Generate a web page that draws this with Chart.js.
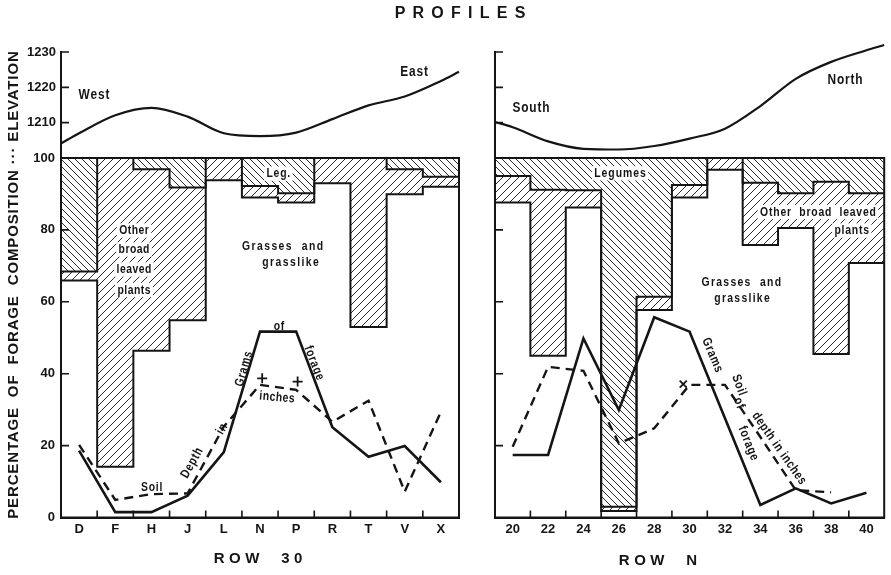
<!DOCTYPE html>
<html>
<head>
<meta charset="utf-8">
<script src="https://cdn.jsdelivr.net/npm/chart.js@4.4.1/dist/chart.umd.min.js"></script>
<style>
  html, body { margin: 0; padding: 0; background: #fff; }
  #wrap { position: relative; width: 891px; height: 575px; overflow: hidden; background: #fff; }
  #wrap canvas { position: absolute; left: 0; top: 0; }
</style>
</head>
<body>
<div id="wrap">
  <canvas id="c30" width="891" height="575"></canvas>
  <canvas id="cN" width="891" height="575"></canvas>
</div>
<script>
// ---------------- DATA ----------------
const pctTicks = [0, 20, 40, 60, 80, 100];
const elevTicks = [1210, 1220, 1230];

// Row 30 (west -> east)
const labels30  = ['D', 'F', 'H', 'J', 'L', 'N', 'P', 'R', 'T', 'V', 'X'];
const grass30   = [65.9, 14.1, 46.4, 54.9, 93.8, 89.0, 87.6, 93.0, 53.0, 89.9, 92.0];
const other30   = [2.5, 85.9, 50.5, 36.9, 6.2, 3.2, 2.6, 7.0, 47.0, 7.0, 2.8];
const legume30  = [31.6, 0, 3.1, 8.2, 0, 7.8, 9.8, 0, 0, 3.1, 5.2];
const grams30   = [18.6, 1.5, 1.5, 6.1, 18.2, 51.7, 51.7, 25.1, 16.9, 19.9, 9.8];
const soil30    = [20.2, 4.9, 6.5, 6.7, 25.3, 36.9, 35.5, 26.6, 32.5, 7.2, 29.4];
const elevAt30  = [-0.5, 0, 1, 2, 3, 4, 5, 6, 7, 8, 9, 10, 10.5];
const elev30    = [1204.1, 1207.0, 1212.1, 1214.2, 1211.7, 1207.0, 1206.2, 1207.2, 1211.0, 1214.9, 1217.4, 1221.8, 1224.4];
const plusAt30  = [5.06, 6.04];
const plus30    = [38.7, 37.8];

// Row N (south -> north)
const labelsN   = ['20', '22', '24', '26', '28', '30', '32', '34', '36', '38', '40'];
const grassN    = [87.6, 45.0, 86.2, 1.8, 57.7, 89.0, 96.7, 75.8, 80.5, 45.5, 70.8];
const otherN    = [7.4, 46.2, 4.8, 1.2, 3.7, 3.5, 3.3, 17.3, 9.7, 47.9, 19.4];
const legumeN   = [5.0, 8.8, 9.0, 97.0, 38.6, 7.5, 0, 6.9, 9.8, 6.6, 9.8];
const gramsN    = [17.4, 17.4, 49.8, 29.9, 55.7, 51.7, 27.6, 3.5, 8.1, 3.9, 6.9];
const soilN     = [19.7, 41.9, 40.8, 20.6, 24.8, 36.9, 36.9, 22.4, 7.6, 7.0, null];
const elevAtN   = [-0.5, 0, 1, 2, 3, 4, 5, 6, 7, 8, 9, 10, 10.5];
const elevN     = [1210.2, 1208.7, 1204.7, 1202.6, 1202.4, 1203.4, 1205.5, 1208.3, 1214.7, 1222.4, 1227.2, 1230.5, 1232.0];
const plusAtN   = [4.82];
const plusN     = [37.1];

// ---------------- STYLE ----------------
const FONT = '"Liberation Sans", Arial, sans-serif';
const INK = '#151515';
Chart.defaults.font.family = FONT;
Chart.defaults.color = INK;

function hatch(dir, s) {
  const c = document.createElement('canvas');
  c.width = s; c.height = s;
  const g = c.getContext('2d');
  g.strokeStyle = '#2a2a2a';
  g.lineWidth = 1;
  g.beginPath();
  if (dir === '/') {
    g.moveTo(-1, s + 1); g.lineTo(s + 1, -1);
    g.moveTo(-1, 1); g.lineTo(1, -1);
    g.moveTo(s - 1, s + 1); g.lineTo(s + 1, s - 1);
  } else {
    g.moveTo(-1, -1); g.lineTo(s + 1, s + 1);
    g.moveTo(-1, s - 1); g.lineTo(1, s + 1);
    g.moveTo(s - 1, -1); g.lineTo(s + 1, 1);
  }
  g.stroke();
  return g.createPattern(c, 'repeat');
}
const PAT_LEG = hatch('\\', 7);
const PAT_OTH = hatch('/', 8);

function drawText(ctx, t) {
  const size = t.size || 12.5;
  ctx.save();
  ctx.translate(t.x, t.y);
  if (t.rot) ctx.rotate(t.rot * Math.PI / 180);
  ctx.font = `${t.weight || 'bold'} ${size}px ${FONT}`;
  const ls = t.ls || 0;
  const hasLS = ('letterSpacing' in ctx);
  if (hasLS) ctx.letterSpacing = ls + 'px';
  const sx = t.sx || 1;
  ctx.scale(sx, 1);
  const w = ctx.measureText(t.s).width - (hasLS ? ls : 0);
  if (t.bg) {
    ctx.fillStyle = '#fff';
    ctx.fillRect(-w / 2 - 3, -size * 0.55, w + 6, size * 1.1);
  }
  ctx.fillStyle = INK;
  ctx.textAlign = 'left';
  ctx.textBaseline = 'middle';
  ctx.fillText(t.s, -w / 2, 0);
  ctx.restore();
}

function panel(id, d) {
  const n = d.labels.length;
  const topOther = d.grass.map((g, i) => g + d.other[i]);
  const step = arr => arr.map((v, i) => ({ x: i - 0.5, y: v })).concat([{ x: n - 0.5, y: arr[n - 1] }]);

  const decor = {
    id: 'decor' + id,
    afterDraw(chart) {
      const { ctx, chartArea: a, scales } = chart;
      const y100 = scales.y.getPixelForValue(100);
      const yTop = scales.ye.getPixelForValue(1230);
      ctx.save();
      ctx.strokeStyle = INK;
      ctx.lineCap = 'square';
      ctx.lineWidth = 2;
      ctx.beginPath();
      ctx.moveTo(a.left, yTop); ctx.lineTo(a.left, a.bottom); ctx.lineTo(a.right, a.bottom);
      ctx.lineTo(a.right, y100); ctx.lineTo(a.left, y100);
      ctx.stroke();
      ctx.lineWidth = 1.6;
      ctx.lineCap = 'butt';
      ctx.beginPath();
      for (let i = 1; i < n; i++) {
        const px = scales.xe.getPixelForValue(i - 0.5);
        ctx.moveTo(px, a.bottom); ctx.lineTo(px, a.bottom - 7);
      }
      pctTicks.filter(v => v > 0 && v < 100).forEach(v => {
        const py = scales.y.getPixelForValue(v);
        ctx.moveTo(a.left, py); ctx.lineTo(a.left + 8, py);
      });
      elevTicks.forEach(v => {
        const py = scales.ye.getPixelForValue(v);
        ctx.moveTo(a.left, py); ctx.lineTo(a.left + 8, py);
      });
      ctx.stroke();
      d.texts.forEach(t => drawText(ctx, t));
      ctx.restore();
    }
  };

  const barCommon = { xAxisID: 'x', yAxisID: 'y', borderWidth: 0, categoryPercentage: 1, barPercentage: 1, grouped: false, order: 2 };

  return new Chart(document.getElementById(id), {
    type: 'bar',
    data: {
      labels: d.labels,
      datasets: [
        { type: 'line', label: 'Grams of forage', data: d.grams, xAxisID: 'x', yAxisID: 'y',
          borderColor: INK, borderWidth: 2.6, pointRadius: 0, tension: 0, order: 0 },
        { type: 'line', label: 'Soil depth in inches', data: d.soil, xAxisID: 'x', yAxisID: 'y',
          borderColor: INK, borderWidth: 2.4, borderDash: [9, 6], pointRadius: 0, tension: 0, order: 0 },
        { type: 'scatter', label: 'marks', data: d.plusAt.map((x, i) => ({ x, y: d.plus[i] })),
          xAxisID: 'xe', yAxisID: 'y', pointStyle: d.plusStyle, pointRadius: 5, borderWidth: 1.8,
          borderColor: INK, backgroundColor: INK, order: 0 },
        { type: 'line', label: 'Elevation', data: d.elevAt.map((x, i) => ({ x, y: d.elev[i] })),
          xAxisID: 'xe', yAxisID: 'ye', borderColor: INK, borderWidth: 2.2, pointRadius: 0,
          cubicInterpolationMode: 'monotone', clip: false, order: 1 },
        { type: 'line', label: 'grass edge', data: step(d.grass), xAxisID: 'xe', yAxisID: 'y',
          stepped: true, borderColor: INK, borderWidth: 2, pointRadius: 0, order: 1 },
        { type: 'line', label: 'other edge', data: step(topOther), xAxisID: 'xe', yAxisID: 'y',
          stepped: true, borderColor: INK, borderWidth: 2, pointRadius: 0, order: 1 },
        Object.assign({ label: 'Legumes', data: topOther.map((v, i) => [v, v + d.legume[i]]),
          backgroundColor: PAT_LEG }, barCommon),
        Object.assign({ label: 'Other broad leaved plants', data: d.grass.map((g, i) => [g, topOther[i]]),
          backgroundColor: PAT_OTH }, barCommon),
        Object.assign({ label: 'Grasses and grasslike', data: d.grass.map(g => [0, g]),
          backgroundColor: '#ffffff' }, barCommon)
      ]
    },
    options: {
      responsive: false,
      animation: false,
      events: [],
      layout: { padding: { left: d.padL, right: d.padR, top: 52, bottom: 0 } },
      plugins: { legend: { display: false }, tooltip: { enabled: false }, title: { display: false } },
      scales: {
        x: {
          type: 'category', offset: true,
          grid: { display: false, drawTicks: false, offset: true },
          border: { display: true, color: INK, width: 2 },
          ticks: { color: INK, font: { size: 13, weight: 'bold' }, padding: 4, maxRotation: 0, autoSkip: false },
          afterFit(s) { s.height = 57.5; }
        },
        xe: { type: 'linear', axis: 'x', position: 'bottom', display: false, offset: false,
              grid: { offset: false }, min: -0.5, max: n - 0.5 },
        ye: {
          type: 'linear', position: 'left', stack: 'v', stackWeight: 106, weight: 2,
          min: 1200, max: 1230,
          afterBuildTicks(s) { s.ticks = elevTicks.map(v => ({ value: v })); },
          grid: { display: false, drawTicks: false },
          border: { display: true, color: INK, width: 2 },
          ticks: { display: d.showY, color: INK, font: { size: 13, weight: 'bold' }, padding: 5, autoSkip: false,
                   callback: v => String(v) },
          afterFit(s) { s.width = d.axisW; }
        },
        y: {
          type: 'linear', position: 'left', stack: 'v', stackWeight: 359.5, weight: 1,
          min: 0, max: 100,
          afterBuildTicks(s) { s.ticks = pctTicks.map(v => ({ value: v })); },
          grid: { display: false, drawTicks: false },
          border: { display: true, color: INK, width: 2 },
          ticks: { display: d.showY, color: INK, font: { size: 13, weight: 'bold' }, padding: 6, autoSkip: false,
                   callback: v => String(v) },
          afterFit(s) { s.width = d.axisW; }
        }
      }
    },
    plugins: [decor]
  });
}

const NAR = 0.8;
panel('c30', {
  labels: labels30, grass: grass30, other: other30, legume: legume30,
  grams: grams30, soil: soil30, elevAt: elevAt30, elev: elev30,
  plusAt: plusAt30, plus: plus30, plusStyle: 'cross',
  padL: 0, padR: 432, axisW: 61, showY: true,
  texts: [
    { s: 'P R O F I L E S', x: 460, y: 14, size: 16, ls: 1.4 },
    { s: 'PERCENTAGE  OF  FORAGE  COMPOSITION ··· ELEVATION', x: 14, y: 285, size: 15, rot: -90, ls: 0.85 },
    { s: 'ROW  30', x: 258, y: 559, size: 15, ls: 4.5 },
    { s: 'West', x: 94, y: 95, size: 14, sx: 0.85, ls: 1 },
    { s: 'East', x: 414, y: 72, size: 14, sx: 0.85, ls: 1 },
    { s: 'Other', x: 134, y: 230.5, size: 13, sx: NAR, ls: 0.6, bg: true },
    { s: 'broad', x: 134, y: 249.5, size: 13, sx: NAR, ls: 0.6, bg: true },
    { s: 'leaved', x: 134, y: 269.5, size: 13, sx: NAR, ls: 0.6, bg: true },
    { s: 'plants', x: 134, y: 290, size: 13, sx: NAR, ls: 0.6, bg: true },
    { s: 'Grasses  and', x: 282.5, y: 246.7, size: 13, sx: NAR, ls: 1.8 },
    { s: 'grasslike', x: 290.5, y: 262, size: 13, sx: NAR, ls: 1.8 },
    { s: 'Leg.', x: 278.3, y: 173.7, size: 13, sx: NAR, ls: 1, bg: true },
    { s: 'Soil', x: 151.7, y: 487.5, size: 13, sx: NAR, ls: 1 },
    { s: 'Depth', x: 192, y: 463, size: 13, sx: NAR, ls: 1, rot: -61 },
    { s: 'in', x: 222, y: 429, size: 13, sx: NAR, ls: 1, rot: -60 },
    { s: 'Grams', x: 244, y: 369, size: 13, sx: NAR, ls: 1, rot: -74 },
    { s: 'of', x: 279, y: 326, size: 13, sx: NAR, ls: 1 },
    { s: 'forage', x: 314, y: 363, size: 13, sx: NAR, ls: 1, rot: 69 },
    { s: 'inches', x: 277, y: 397.5, size: 13, sx: NAR, ls: 0.6, rot: 5 }
  ]
});

panel('cN', {
  labels: labelsN, grass: grassN, other: otherN, legume: legumeN,
  grams: gramsN, soil: soilN, elevAt: elevAtN, elev: elevN,
  plusAt: plusAtN, plus: plusN, plusStyle: 'crossRot',
  padL: 470, padR: 1, axisW: 25, showY: false,
  texts: [
    { s: 'ROW  N', x: 658, y: 561, size: 15, ls: 4.5 },
    { s: 'South', x: 531, y: 108, size: 14, sx: 0.85, ls: 1 },
    { s: 'North', x: 845, y: 80, size: 14, sx: 0.85, ls: 1 },
    { s: 'Legumes', x: 620, y: 173.3, size: 13, sx: NAR, ls: 1.2, bg: true },
    { s: 'Other  broad  leaved', x: 818, y: 212, size: 13, sx: NAR, ls: 1, bg: true },
    { s: 'plants', x: 851.7, y: 230.5, size: 13, sx: NAR, ls: 1, bg: true },
    { s: 'Grasses  and', x: 741.3, y: 282.5, size: 13, sx: NAR, ls: 1.6 },
    { s: 'grasslike', x: 742, y: 298.7, size: 13, sx: NAR, ls: 1.6 },
    { s: 'Grams', x: 712.3, y: 355, size: 13, sx: NAR, ls: 1, rot: 67 },
    { s: 'Soil', x: 739, y: 385, size: 13, sx: NAR, ls: 1, rot: 70 },
    { s: 'of', x: 739, y: 403, size: 13, sx: NAR, ls: 1, rot: 70 },
    { s: 'forage', x: 748.3, y: 443.3, size: 13, sx: NAR, ls: 1, rot: 68 },
    { s: 'depth in inches', x: 779, y: 448.3, size: 13, sx: NAR, ls: 0.8, rot: 55 }
  ]
});
</script>
</body>
</html>
